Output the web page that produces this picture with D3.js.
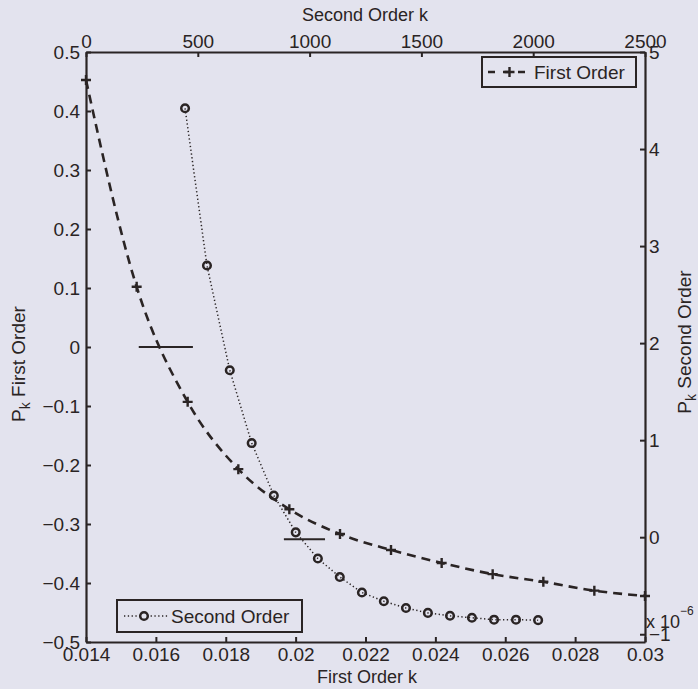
<!DOCTYPE html>
<html>
<head>
<meta charset="utf-8">
<script src="https://cdn.jsdelivr.net/npm/d3@7"></script>
<style>
  html, body { margin: 0; padding: 0; background: #e3e3ee; }
  svg { display: block; }
  text { font-family: Arial, "Liberation Sans", sans-serif; fill: #2a2424; }
</style>
</head>
<body>
<svg id="chart" width="698" height="689"></svg>
<script>
// ---- data ----
const firstOrderK = [0.014, 0.01545, 0.01691, 0.01836, 0.01982, 0.02127, 0.02273, 0.02418, 0.02564, 0.02709, 0.02855, 0.03];
const firstOrderP = [0.4525, 0.102, -0.093, -0.207, -0.275, -0.317, -0.344, -0.366, -0.385, -0.398, -0.413, -0.422];

const secondOrderK = [443, 541, 643, 741, 840, 938, 1037, 1135, 1234, 1332, 1431, 1529, 1628, 1726, 1825, 1923, 2022];
const secondOrderP = [4.42, 2.80, 1.72, 0.97, 0.43, 0.05, -0.22, -0.41, -0.57, -0.66, -0.73, -0.78, -0.81, -0.83, -0.85, -0.85, -0.855]; // x 10^-6

// zero-crossing marks: first order (bottom/left axes), second order (top/right axes)
const firstZeroMarkK = [0.01551, 0.01706];
const firstZeroMarkP = 0;
const secondZeroMarkK = [885, 1069];
const secondZeroMarkP = -0.02;

const bottomTicks = [0.014, 0.016, 0.018, 0.02, 0.022, 0.024, 0.026, 0.028, 0.03];
const bottomTickLabels = ["0.014", "0.016", "0.018", "0.02", "0.022", "0.024", "0.026", "0.028", "0.03"];
const leftTicks = [-0.5, -0.4, -0.3, -0.2, -0.1, 0, 0.1, 0.2, 0.3, 0.4, 0.5];
const leftTickLabels = ["\u22120.5", "\u22120.4", "\u22120.3", "\u22120.2", "\u22120.1", "0", "0.1", "0.2", "0.3", "0.4", "0.5"];
const topTicks = [0, 500, 1000, 1500, 2000, 2500];
const topTickLabels = ["0", "500", "1000", "1500", "2000", "2500"];
const rightTicks = [-1, 0, 1, 2, 3, 4, 5];
const rightTickLabels = ["\u22121", "0", "1", "2", "3", "4", "5"];

const seriesNames = ["First Order", "Second Order"];

// ---- layout ----
const ink = "#2a2424";
const bg = "#e3e3ee";
const L = 86, R = 645, T = 52, B = 642;
const svg = d3.select("#chart");
svg.append("rect").attr("width", 698).attr("height", 689).attr("fill", bg);

const xB = d3.scaleLinear().domain([0.014, 0.03]).range([L, R]);
const yL = d3.scaleLinear().domain([-0.5, 0.5]).range([B, T]);
const xT = d3.scaleLinear().domain([0, 2500]).range([L, R]);
const yR = d3.scaleLinear().domain([-1.08, 5]).range([B, T]);

function styleAxis(g) {
  g.selectAll("path.domain").attr("stroke", ink).attr("stroke-width", 2.2);
  g.selectAll(".tick line").attr("stroke", ink).attr("stroke-width", 2);
  g.selectAll(".tick text").attr("fill", ink).style("font-size", "19px")
    .style("font-family", "Arial, 'Liberation Sans', sans-serif");
}

// bottom axis
const gB = svg.append("g").attr("transform", `translate(0,${B})`)
  .call(d3.axisBottom(xB).tickValues(bottomTicks)
    .tickFormat((d, i) => bottomTickLabels[i]).tickSizeInner(-5).tickSizeOuter(0).tickPadding(6));
styleAxis(gB);
// left axis
const gL = svg.append("g").attr("transform", `translate(${L},0)`)
  .call(d3.axisLeft(yL).tickValues(leftTicks)
    .tickFormat((d, i) => leftTickLabels[i]).tickSizeInner(-5).tickSizeOuter(0).tickPadding(6));
styleAxis(gL);
// top axis
const gT = svg.append("g").attr("transform", `translate(0,${T})`)
  .call(d3.axisTop(xT).tickValues(topTicks)
    .tickFormat((d, i) => topTickLabels[i]).tickSizeInner(-5).tickSizeOuter(0).tickPadding(4));
styleAxis(gT);
// right axis
const gR = svg.append("g").attr("transform", `translate(${R},0)`)
  .call(d3.axisRight(yR).tickValues(rightTicks)
    .tickFormat((d, i) => rightTickLabels[i]).tickSizeInner(-5).tickSizeOuter(0).tickPadding(4));
styleAxis(gR);

// exponent label
const expo = svg.append("text").attr("x", 646).attr("y", 628).style("font-size", "18px");
expo.append("tspan").text("x ");
expo.append("tspan").text("10");
expo.append("tspan").attr("dy", -13).style("font-size", "12px").text("\u22126");

// axis titles
svg.append("text").attr("x", 365).attr("y", 21).attr("text-anchor", "middle")
  .style("font-size", "18px").text("Second Order k");
svg.append("text").attr("x", 367).attr("y", 683).attr("text-anchor", "middle")
  .style("font-size", "18px").text("First Order k");

function ylabel(x, y, name) {
  const t = svg.append("text").attr("transform", `translate(${x},${y}) rotate(-90)`)
    .attr("text-anchor", "middle").style("font-size", "19px");
  t.append("tspan").text("P");
  t.append("tspan").attr("dy", 5).style("font-size", "14px").text("k");
  t.append("tspan").attr("dy", -5).text(" " + name);
}
ylabel(25, 364, seriesNames[0]);
ylabel(691, 342, seriesNames[1]);

// ---- series ----
const plus = "M-5,0H5M0,-5V5";

// first order
const first = firstOrderK.map((k, i) => [k, firstOrderP[i]]);
svg.append("path").datum(first)
  .attr("d", d3.line().x(d => xB(d[0])).y(d => yL(d[1])).curve(d3.curveMonotoneX))
  .attr("fill", "none").attr("stroke", ink).attr("stroke-width", 2.6)
  .attr("stroke-dasharray", "9,6");
svg.append("g").selectAll("path").data(first).join("path")
  .attr("transform", d => `translate(${xB(d[0])},${yL(d[1])})`)
  .attr("d", plus).attr("stroke", ink).attr("stroke-width", 2.4).attr("fill", "none");

// second order
const second = secondOrderK.map((k, i) => [k, secondOrderP[i]]);
svg.append("path").datum(second)
  .attr("d", d3.line().x(d => xT(d[0])).y(d => yR(d[1])))
  .attr("fill", "none").attr("stroke", ink).attr("stroke-width", 1.5)
  .attr("stroke-dasharray", "1.3,2.5");
svg.append("g").selectAll("circle").data(second).join("circle")
  .attr("cx", d => xT(d[0])).attr("cy", d => yR(d[1])).attr("r", 3.8)
  .attr("fill", "none").attr("stroke", ink).attr("stroke-width", 2.5);

// zero-crossing marks
svg.append("line")
  .attr("x1", xB(firstZeroMarkK[0])).attr("x2", xB(firstZeroMarkK[1]))
  .attr("y1", yL(firstZeroMarkP)).attr("y2", yL(firstZeroMarkP))
  .attr("stroke", ink).attr("stroke-width", 2);
svg.append("line")
  .attr("x1", xT(secondZeroMarkK[0])).attr("x2", xT(secondZeroMarkK[1]))
  .attr("y1", yR(secondZeroMarkP)).attr("y2", yR(secondZeroMarkP))
  .attr("stroke", ink).attr("stroke-width", 2);

// ---- legends ----
// First Order legend (top right)
const lg1 = svg.append("g");
lg1.append("rect").attr("x", 482).attr("y", 57).attr("width", 154).attr("height", 30)
  .attr("fill", bg).attr("stroke", ink).attr("stroke-width", 2);
lg1.append("line").attr("x1", 488).attr("x2", 531).attr("y1", 72).attr("y2", 72)
  .attr("stroke", ink).attr("stroke-width", 2.6).attr("stroke-dasharray", "7,8");
lg1.append("path").attr("transform", "translate(509.5,72)").attr("d", plus)
  .attr("stroke", ink).attr("stroke-width", 2.4);
lg1.append("text").attr("x", 534).attr("y", 72).attr("dy", "0.35em")
  .style("font-size", "19px").text(seriesNames[0]);

// Second Order legend (bottom left)
const lg2 = svg.append("g");
lg2.append("rect").attr("x", 117).attr("y", 600).attr("width", 185).attr("height", 32)
  .attr("fill", bg).attr("stroke", ink).attr("stroke-width", 2);
lg2.append("line").attr("x1", 124).attr("x2", 168).attr("y1", 616).attr("y2", 616)
  .attr("stroke", ink).attr("stroke-width", 1.5).attr("stroke-dasharray", "1.3,2.5");
lg2.append("circle").attr("cx", 144).attr("cy", 616).attr("r", 3.8)
  .attr("fill", bg).attr("stroke", ink).attr("stroke-width", 2.5);
lg2.append("text").attr("x", 171).attr("y", 616).attr("dy", "0.35em")
  .style("font-size", "19px").text(seriesNames[1]);
</script>
</body>
</html>
